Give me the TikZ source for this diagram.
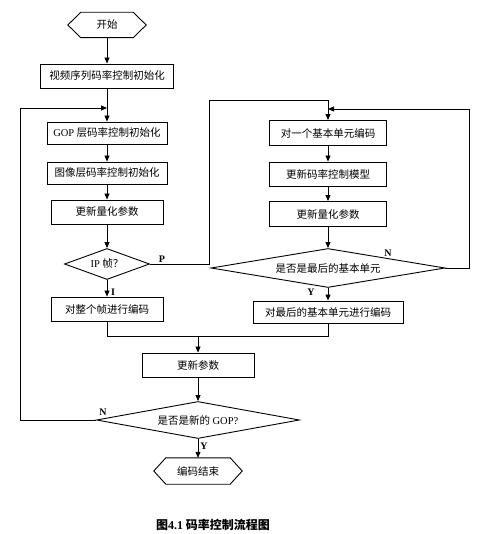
\documentclass[tikz,border=0pt]{standalone}
\usepackage{fontspec}
\setmainfont{Noto Sans CJK SC}
\newfontfamily\lat{Liberation Serif}
\usetikzlibrary{shapes.geometric,arrows.meta,calc}
\begin{document}
\begin{tikzpicture}[x=1pt,y=-1pt,
  every node/.style={font=\fontsize{10.5}{12}\selectfont},
  box/.style={draw,line width=0.9pt,minimum height=24pt,inner sep=0pt},
  dia/.style={draw,diamond,line width=0.9pt,inner sep=0pt},
  term/.style={minimum height=25pt,inner sep=0pt},
  lbl/.style={font=\lat\fontsize{10}{12}\selectfont\bfseries,inner sep=0pt},
  ln/.style={line width=0.8pt},
  arr/.style={line width=0.8pt,-{Triangle[length=6pt,width=5pt]}}]
\useasboundingbox (0,0) rectangle (482,534);
% nodes
\node[term,minimum width=78pt] (start) at (107,25) {开始};
\node[box,minimum width=133pt] (b1) at (107,76) {视频序列码率控制初始化};
\node[box,minimum width=120pt,minimum height=22pt] (b2) at (107,133) {{\lat GOP} 层码率控制初始化};
\node[box,minimum width=120pt,minimum height=22pt] (b3) at (107,173) {图像层码率控制初始化};
\node[box,minimum width=112pt] (b4) at (107,212) {更新量化参数};
\node[dia,minimum width=85pt,minimum height=31pt,aspect=2.7] (ip) at (107,264) {{\lat IP} 帧？};
\node[box,minimum width=112pt] (bf) at (107,309) {对整个帧进行编码};
\node[box,minimum width=117pt,minimum height=25pt] (b5) at (328,133) {对一个基本单元编码};
\node[box,minimum width=117pt] (b6) at (328,174) {更新码率控制模型};
\node[box,minimum width=117pt,minimum height=25pt] (b7) at (328,214) {更新量化参数};
\node[dia,minimum width=234pt,minimum height=39pt,aspect=6] (d2) at (328,268) {是否是最后的基本单元};
\node[box,minimum width=150pt,minimum height=22pt] (b8) at (328,312) {对最后的基本单元进行编码};
\node[box,minimum width=112pt] (b9) at (198,365) {更新参数};
\node[dia,minimum width=203pt,minimum height=37pt,aspect=5.5] (d3) at (198,420) {是否是新的 {\lat GOP?}};
\node[term,minimum width=88pt,minimum height=26pt] (end) at (198,471) {编码结束};
\node[font=\fontsize{12}{14}\selectfont\bfseries] (cap) at (213,525) {图{\lat 4.1} 码率控制流程图};
% hexagon outlines
\draw[line width=0.9pt] (start.west) -- ([xshift=13pt]start.north west) -- ([xshift=-13pt]start.north east) -- (start.east) -- ([xshift=-13pt]start.south east) -- ([xshift=13pt]start.south west) -- cycle;
\draw[line width=0.9pt] (end.west) -- ([xshift=12pt]end.north west) -- ([xshift=-12pt]end.north east) -- (end.east) -- ([xshift=-12pt]end.south east) -- ([xshift=12pt]end.south west) -- cycle;
% labels
\node[lbl] (lP) at (162,259) {P};
\node[lbl] (lI) at (113,292) {I};
\node[lbl] (lN1) at (388,253) {N};
\node[lbl] (lY1) at (311,292) {Y};
\node[lbl] (lN2) at (103,412) {N};
\node[lbl] (lY2) at (204,446) {Y};
% coordinates
\coordinate (pc) at (209,100);
\coordinate (rc) at (469,109);
\coordinate (lc) at (20,108);
\coordinate (mj) at (198,336);
% connectors
\draw[arr] (start.south) -- (b1.north);
\draw[arr] (b1.south) -- (b2.north);
\draw[arr] (b2.south) -- (b3.north);
\draw[arr] (b3.south) -- (b4.north);
\draw[arr] (b4.south) -- (ip.north);
\draw[arr] (ip.south) -- (bf.north);
\draw[arr] (ip.east) -| (pc) -| (b5.north);
\draw[arr] (b5.south) -- (b6.north);
\draw[arr] (b6.south) -- (b7.north);
\draw[arr] (b7.south) -- (d2.north);
\draw[arr] (d2.south) -- (b8.north);
\draw[arr] (d2.east) -| (rc) -- (rc -| b5.north);
\draw[ln] (bf.south) |- (b8.south |- mj) -- (b8.south);
\draw[arr] (mj) -- (b9.north);
\draw[arr] (b9.south) -- (d3.north);
\draw[arr] (d3.south) -- (end.north);
\draw[arr] (d3.west) -| (lc) -- (lc -| b2.north);
\end{tikzpicture}
\end{document}
